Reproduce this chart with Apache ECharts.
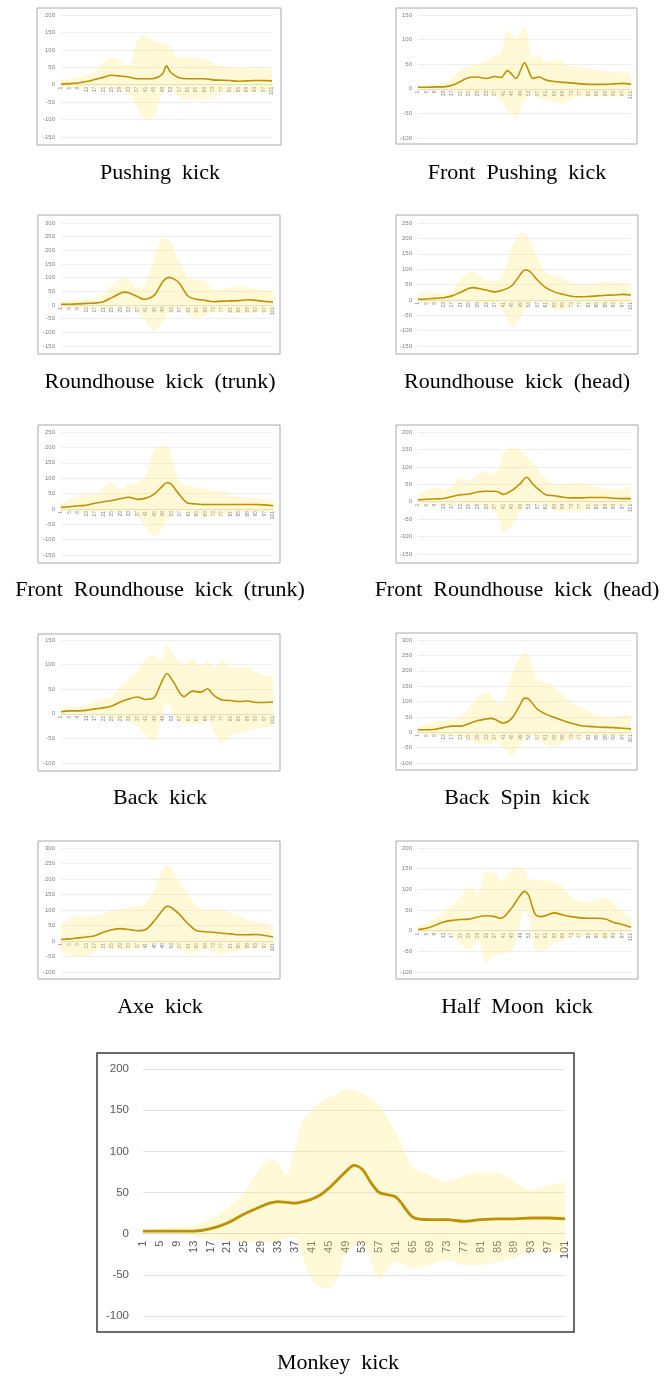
<!DOCTYPE html>
<html><head><meta charset="utf-8">
<script src="https://cdn.jsdelivr.net/npm/echarts@6/dist/echarts.min.js"></script>
<style>html,body{margin:0;padding:0;background:#fff}#c{width:668px;height:1378px}</style>
</head><body><div id="c"></div>
<script>
// ---------- category labels (1..101, shown every 4th) ----------
const CATEGORIES = Array.from({length: 101}, (_, i) => String(i + 1));

// ---------- data: x position, mean, band upper, band lower ----------
const pushX    = [1,5,9,13,17,21,25,29,33,37,41,45,49,51,53,57,61,65,69,73,77,81,85,89,93,97,101];
const pushMean = [2,3,5,9,15,21,27,25,22,17,17,18,30,54,35,20,17,17,17,14,13,12,10,11,12,12,11];
const pushUp   = [15,17,20,28,38,62,78,71,55,125,142,125,117,115,108,76,78,78,75,62,52,50,48,47,47,46,45];
const pushLo   = [-8,-9,-10,-10,-10,-10,-12,-15,-25,-65,-100,-95,-20,-10,-8,-35,-42,-42,-42,-38,-22,-20,-20,-20,-20,-20,-20];

const fpushX    = [1,5,9,13,17,21,25,29,33,37,40,43,47,51,55,58,61,65,69,73,77,81,85,89,93,97,101];
const fpushMean = [3,3,4,4,7,15,23,24,21,25,23,37,21,53,21,24,18,15,13,12,10,9,9,9,10,11,9];
const fpushUp   = [8,8,10,12,22,38,45,50,58,68,72,120,102,128,62,67,55,58,55,45,45,40,38,35,34,33,32];
const fpushLo   = [-2,-2,-2,-3,-5,-8,-10,-10,-12,-15,-25,-45,-57,-25,-10,-20,-22,-28,-30,-20,-15,-15,-15,-15,-15,-15,-15];

const rhtX    = [1,5,9,13,17,21,25,29,31,33,37,40,45,49,52,55,57,61,65,69,73,77,81,85,89,93,97,101];
const rhtMean = [3,3,4,6,7,12,27,43,47,45,31,21,36,85,101,92,78,32,21,17,12,14,15,16,19,17,13,11];
const rhtUp   = [15,17,20,22,25,40,70,97,100,95,62,70,170,243,240,190,160,97,92,88,55,60,64,68,65,60,55,54];
const rhtLo   = [-8,-8,-10,-10,-10,-10,-10,-8,-5,-10,-25,-50,-94,-60,-25,-10,-8,-30,-45,-40,-25,-25,-28,-30,-28,-25,-25,-25];

const rhhX    = [1,5,9,13,17,21,25,27,29,33,37,41,45,49,51,53,57,61,65,69,73,77,81,85,89,93,97,101];
const rhhMean = [2,3,5,7,13,25,38,40,38,32,26,32,46,82,97,95,65,40,26,18,12,10,11,13,15,16,18,16];
const rhhUp   = [20,25,25,20,30,65,90,92,85,62,62,85,168,215,217,200,140,87,78,72,55,50,50,55,60,57,55,52];
const rhhLo   = [-10,-10,-10,-8,-8,-8,-10,-10,-10,-10,-15,-40,-89,-60,-30,-15,-5,-15,-30,-35,-20,-15,-15,-15,-15,-15,-15,-15];

const frtX    = [1,5,9,13,17,21,25,29,33,37,41,45,49,51,53,57,61,65,69,73,77,81,85,89,93,97,101];
const frtMean = [5,7,10,12,18,23,27,33,38,31,35,48,75,86,80,45,18,16,14,14,14,14,14,14,14,13,10];
const frtUp   = [20,30,45,50,45,70,84,65,80,85,110,190,205,205,170,90,75,70,65,60,55,45,40,35,35,32,30];
const frtLo   = [-5,-8,-10,-12,-10,-10,-12,-10,-8,-20,-60,-91,-60,-35,-15,-5,-15,-20,-22,-20,-18,-15,-12,-10,-10,-10,-10];

const frhX    = [1,5,9,13,17,21,25,29,33,37,39,41,45,49,52,55,58,61,65,69,73,77,81,85,89,93,97,101];
const frhMean = [5,7,8,9,15,20,22,28,30,30,27,21,32,52,70,50,33,20,17,13,11,11,12,12,12,10,9,9];
const frhUp   = [20,35,40,35,45,69,62,75,88,80,95,140,157,150,128,110,85,65,50,50,52,55,48,42,38,36,38,42];
const frhLo   = [-8,-8,-8,-10,-10,-8,-8,-10,-15,-30,-55,-90,-70,-30,-10,-5,-5,-10,-25,-28,-25,-28,-20,-15,-15,-12,-12,-12];

const backX    = [1,5,9,13,17,21,25,29,33,37,41,45,48,51,54,59,63,67,70,73,77,81,85,89,93,97,101];
const backMean = [4,6,6,7,10,12,16,24,30,34,29,33,60,82,65,35,46,44,51,38,28,27,25,26,23,23,24];
const backUp   = [12,14,15,18,25,30,35,55,70,85,112,119,110,140,120,100,112,98,106,94,108,95,95,95,85,78,77];
const backLo   = [-2,-2,-2,-3,-5,-5,-8,-12,-15,-25,-45,-55,-20,24,0,-20,-20,-18,-10,-35,-60,-45,-40,-35,-30,-28,-25];

const bspinX    = [1,5,9,13,17,21,25,29,33,35,37,41,45,49,51,53,57,61,65,69,73,77,81,85,89,93,97,101];
const bspinMean = [8,8,10,15,20,20,28,38,43,45,42,30,45,90,111,108,75,59,48,38,29,22,19,17,16,15,13,11];
const bspinUp   = [15,25,35,40,42,50,80,115,128,125,95,100,190,245,260,250,170,160,150,120,95,85,70,55,50,50,52,55];
const bspinLo   = [-3,-5,-8,-10,-12,-15,-25,-35,-40,-38,-30,-50,-75,-40,-20,-10,-20,-40,-48,-35,-25,-20,-15,-10,-10,-12,-12,-12];

const axeX    = [1,5,9,13,17,21,25,29,33,37,41,45,49,51,53,57,61,65,69,73,77,81,85,89,93,97,101];
const axeMean = [5,7,10,13,17,28,36,40,37,33,37,65,100,112,108,85,55,33,30,28,25,23,20,20,21,18,13];
const axeUp   = [50,72,80,80,82,88,98,103,108,112,120,170,235,245,235,190,150,112,100,100,100,90,80,68,62,58,50];
const axeLo   = [-35,-45,-50,-48,-35,-20,-25,-25,-30,-25,-15,-10,-10,-10,-15,-25,-40,-35,-25,-40,-45,-35,-30,-25,-20,-18,-15];

const halfX    = [1,5,9,13,17,21,25,29,33,37,40,45,48,51,53,56,59,65,69,73,77,81,85,89,93,97,101];
const halfMean = [3,6,13,21,25,27,28,33,36,34,30,55,78,95,85,40,34,43,38,34,31,30,30,28,20,15,8];
const halfUp   = [10,18,30,45,60,80,107,90,143,140,120,148,155,150,125,122,122,118,105,80,72,68,75,80,65,45,30];
const halfLo   = [-3,-5,-5,-8,-10,-30,-47,-25,-76,-60,-55,-50,0,45,30,-45,-50,-30,-25,-15,-15,-10,-15,-20,-10,-5,-5];

const monkX    = [1,5,9,13,17,21,25,29,31,33,35,37,39,41,43,45,47,49,51,53,55,57,61,65,69,73,77,81,85,89,93,97,101];
const monkMean = [3,3,3,3,6,13,24,33,37,39,38,37,39,42,47,55,65,75,83,78,62,50,44,20,17,17,15,17,18,18,19,19,18];
const monkUp   = [5,6,8,10,18,30,50,81,91,85,72,105,138,150,160,165,170,175,175,170,165,155,122,81,71,63,70,75,74,63,52,59,62];
const monkLo   = [0,0,0,-3,-7,-8,-10,-10,-10,-8,-5,-3,-30,-55,-65,-66,-55,-25,-15,-10,-35,-55,-35,-42,-38,-32,-38,-38,-35,-30,-20,-20,-25];

// ---------- chart list ----------
const charts = [
  {name: 'Pushing  kick', x: pushX, mean: pushMean, up: pushUp, lo: pushLo, yMin: -150, yMax: 200},
  {name: 'Front  Pushing  kick', x: fpushX, mean: fpushMean, up: fpushUp, lo: fpushLo, yMin: -100, yMax: 150},
  {name: 'Roundhouse  kick  (trunk)', x: rhtX, mean: rhtMean, up: rhtUp, lo: rhtLo, yMin: -150, yMax: 300},
  {name: 'Roundhouse  kick  (head)', x: rhhX, mean: rhhMean, up: rhhUp, lo: rhhLo, yMin: -150, yMax: 250},
  {name: 'Front  Roundhouse  kick  (trunk)', x: frtX, mean: frtMean, up: frtUp, lo: frtLo, yMin: -150, yMax: 250},
  {name: 'Front  Roundhouse  kick  (head)', x: frhX, mean: frhMean, up: frhUp, lo: frhLo, yMin: -150, yMax: 200},
  {name: 'Back  kick', x: backX, mean: backMean, up: backUp, lo: backLo, yMin: -100, yMax: 150},
  {name: 'Back  Spin  kick', x: bspinX, mean: bspinMean, up: bspinUp, lo: bspinLo, yMin: -100, yMax: 300},
  {name: 'Axe  kick', x: axeX, mean: axeMean, up: axeUp, lo: axeLo, yMin: -100, yMax: 300},
  {name: 'Half  Moon  kick', x: halfX, mean: halfMean, up: halfUp, lo: halfLo, yMin: -100, yMax: 200},
  {name: 'Monkey  kick', x: monkX, mean: monkMean, up: monkUp, lo: monkLo, yMin: -100, yMax: 200}
];

// ---------- layout (pixels) ----------
const layout = [
  {grid: [61, 15, 211, 122],  box: [37, 8, 244, 137],  cap: [160, 173]},
  {grid: [418, 15, 213, 123], box: [396, 8, 241, 136], cap: [517, 173]},
  {grid: [61, 223, 212, 123], box: [38, 215, 242, 139], cap: [160, 382]},
  {grid: [418, 223, 213, 123], box: [396, 215, 242, 139], cap: [517, 382]},
  {grid: [61, 432, 212, 123], box: [38, 425, 242, 138], cap: [160, 590]},
  {grid: [418, 432, 213, 122], box: [396, 425, 242, 138], cap: [517, 590]},
  {grid: [61, 640, 212, 123], box: [38, 634, 242, 137], cap: [160, 798]},
  {grid: [418, 640, 213, 123], box: [396, 633, 241, 137], cap: [517, 798]},
  {grid: [61, 848, 212, 124], box: [38, 841, 242, 138], cap: [160, 1007]},
  {grid: [418, 848, 213, 124], box: [396, 841, 242, 138], cap: [517, 1007]},
  {grid: [143, 1069, 422, 247], box: [97, 1053, 477, 279], cap: [338, 1363], big: true}
];

const LINE = '#BF9000';
const BAND = 'rgba(255,234,125,0.30)';
const grids = [], xAxes = [], yAxes = [], series = [], graphic = [];

charts.forEach((c, i) => {
  const L = layout[i];
  const big = !!L.big;
  const h = L.grid[3];
  // lift the category axis from the grid bottom up to the zero line
  const zeroLift = h * (0 - c.yMin) / (c.yMax - c.yMin);
  grids.push({left: L.grid[0], top: L.grid[1], width: L.grid[2], height: h, containLabel: false});
  xAxes.push({
    type: 'category', gridIndex: i, data: CATEGORIES, boundaryGap: false, position: 'bottom',
    offset: -zeroLift,
    axisLine: {onZero: false, lineStyle: {color: '#d9d9d9', width: 1}},
    axisTick: {show: false},
    axisLabel: {interval: 3, rotate: 90, fontSize: big ? 11 : 5, color: big ? '#595959' : '#808080',
      margin: big ? 7 : 2, fontFamily: 'Liberation Sans'},
    splitLine: {show: false}
  });
  yAxes.push({
    type: 'value', gridIndex: i, min: c.yMin, max: c.yMax, interval: 50,
    axisLine: {show: false}, axisTick: {show: false},
    axisLabel: {fontSize: big ? 11.5 : 6, color: big ? '#595959' : '#808080', margin: big ? 14 : 6,
      fontFamily: 'Liberation Sans'},
    splitLine: {lineStyle: {color: '#e2e2e2', width: big ? 1 : 0.6}}
  });
  const lo = c.x.map((x, k) => [x - 1, c.lo[k]]);
  const span = c.x.map((x, k) => [x - 1, c.up[k] - c.lo[k]]);
  const mean = c.x.map((x, k) => [x - 1, c.mean[k]]);
  series.push({type: 'line', xAxisIndex: i, yAxisIndex: i, data: lo, stack: 'band' + i, stackStrategy: 'all',
    smooth: 0.3, symbol: 'none', lineStyle: {opacity: 0}, silent: true, z: 1});
  series.push({type: 'line', xAxisIndex: i, yAxisIndex: i, data: span, stack: 'band' + i, stackStrategy: 'all',
    smooth: 0.3, symbol: 'none', lineStyle: {opacity: 0}, areaStyle: {color: BAND, opacity: 1}, silent: true, z: 1});
  series.push({type: 'line', xAxisIndex: i, yAxisIndex: i, data: mean, smooth: 0.3, symbol: 'none',
    lineStyle: {color: LINE, width: big ? 2.8 : 1.6}, z: 3});

  graphic.push({type: 'rect', shape: {x: L.box[0], y: L.box[1], width: L.box[2], height: L.box[3]},
    style: {fill: 'none', stroke: big ? '#3a3a3a' : '#a8a8a8', lineWidth: big ? 1.5 : 1}, z: 10});
  graphic.push({type: 'text', x: L.cap[0], y: L.cap[1],
    style: {text: c.name, font: '22px "Liberation Serif", "DejaVu Serif", serif', fill: '#000',
      align: 'center', verticalAlign: 'middle', textAlign: 'center', textVerticalAlign: 'middle'}, z: 10});
});

const chart = echarts.init(document.getElementById('c'), null, {renderer: 'canvas'});
chart.setOption({
  animation: false,
  backgroundColor: '#fff',
  grid: grids, xAxis: xAxes, yAxis: yAxes, series: series, graphic: graphic
});
</script></body></html>
